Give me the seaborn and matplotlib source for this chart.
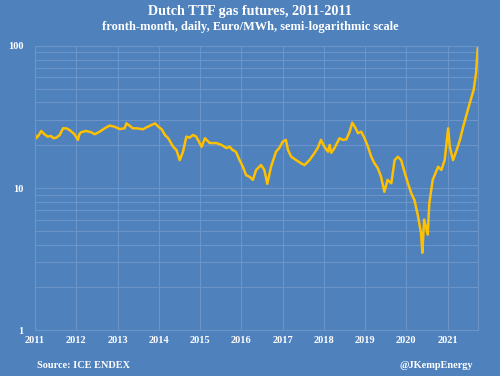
import matplotlib
matplotlib.use("Agg")
import matplotlib.pyplot as plt
from matplotlib.ticker import LogLocator, NullFormatter, FixedLocator, FixedFormatter
import seaborn as sns
import pandas as pd

# ---- data ----
dates = [
    "2011-01-03", "2011-01-12", "2011-02-03", "2011-02-25", "2011-03-25", "2011-04-23",
    "2011-05-23", "2011-06-14", "2011-07-08", "2011-08-08", "2011-09-06", "2011-10-05",
    "2011-11-02", "2011-12-16", "2012-01-16", "2012-01-30", "2012-02-14", "2012-03-28",
    "2012-05-11", "2012-06-13", "2012-07-27", "2012-09-09", "2012-10-23", "2012-12-05",
    "2013-01-19", "2013-03-04", "2013-03-20", "2013-04-16", "2013-05-15", "2013-06-17",
    "2013-08-15", "2013-09-13", "2013-10-31", "2013-11-29", "2013-12-28", "2014-01-26",
    "2014-02-24", "2014-03-25", "2014-05-08", "2014-06-06", "2014-07-05", "2014-08-03",
    "2014-09-02", "2014-10-01", "2014-10-30", "2014-11-28", "2015-01-15", "2015-02-13",
    "2015-03-28", "2015-05-26", "2015-07-09", "2015-08-22", "2015-09-20", "2015-10-16",
    "2015-11-14", "2015-12-17", "2016-01-15", "2016-02-13", "2016-03-14", "2016-04-12",
    "2016-05-11", "2016-06-24", "2016-07-23", "2016-08-18", "2016-09-20", "2016-11-03",
    "2016-12-02", "2017-01-02", "2017-01-30", "2017-02-17", "2017-03-18", "2017-05-01",
    "2017-06-14", "2017-07-13", "2017-08-26", "2017-10-09", "2017-11-07", "2017-12-06",
    "2018-01-05", "2018-02-07", "2018-02-21", "2018-03-07", "2018-04-05", "2018-05-19",
    "2018-06-17", "2018-07-19", "2018-08-17", "2018-09-09", "2018-10-01", "2018-10-30",
    "2018-11-28", "2018-12-27", "2019-01-26", "2019-02-24", "2019-03-25", "2019-04-23",
    "2019-05-22", "2019-06-20", "2019-07-19", "2019-08-21", "2019-09-19", "2019-10-18",
    "2019-11-16", "2019-12-15", "2020-01-15", "2020-02-13", "2020-03-13", "2020-04-11",
    "2020-05-10", "2020-05-21", "2020-06-06", "2020-07-08", "2020-07-22", "2020-08-21",
    "2020-10-08", "2020-11-06", "2020-12-05", "2021-01-05", "2021-01-19", "2021-02-17",
    "2021-03-21", "2021-04-19", "2021-05-18", "2021-06-20", "2021-07-19", "2021-08-18",
    "2021-09-09", "2021-09-20", "2021-09-24",
]
prices = [
    23.6, 22.4, 23.5, 25.2, 23.9, 23.0,
    23.2, 22.4, 22.6, 23.6, 26.3, 26.3,
    25.6, 23.9, 21.8, 24.0, 24.7, 25.2,
    24.7, 23.9, 24.9, 26.3, 27.5, 27.0,
    26.0, 26.3, 28.5, 27.5, 26.3, 26.3,
    25.9, 26.7, 27.8, 28.5, 27.0, 25.9,
    23.6, 22.4, 19.5, 18.5, 15.7, 18.0,
    23.0, 22.6, 23.6, 23.0, 19.5, 22.4,
    20.7, 20.7, 20.1, 19.1, 19.5, 18.5,
    18.0, 15.7, 14.1, 12.3, 12.0, 11.4,
    13.4, 14.5, 13.4, 10.7, 14.1, 18.0,
    19.1, 21.2, 21.8, 18.5, 16.6, 15.7,
    14.9, 14.5, 15.7, 17.6, 19.1, 21.8,
    19.5, 18.0, 20.1, 17.7, 19.1, 22.4,
    21.8, 22.0, 24.9, 28.8, 27.0, 24.3,
    24.9, 22.4, 19.5, 16.6, 14.9, 13.8,
    12.0, 9.4, 11.4, 10.8, 15.7, 16.6,
    15.7, 13.0, 10.8, 9.2, 8.2, 6.45,
    4.8, 3.5, 6.0, 4.7, 7.8, 11.4,
    14.1, 13.4, 15.7, 26.3, 19.5, 15.7,
    18.5, 21.8, 27.0, 33.6, 40.6, 48.9,
    64.2, 88.6, 97.0,
]
year_labels = [str(y) for y in range(2011, 2022)]
y_labels = ["1", "10", "100"]

title = "Dutch TTF gas futures, 2011-2011"
subtitle = "fronth-month, daily, Euro/MWh, semi-logarithmic scale"
source = "Source: ICE ENDEX"
handle = "@JKempEnergy"

df = pd.DataFrame({"date": pd.to_datetime(dates), "price": prices})

# ---- style ----
BG = "#4F81BD"
LINE = "#FFC000"
GRID = "#6B95C9"

sns.set_theme(style="white")
plt.rcParams["font.family"] = ["Liberation Serif", "DejaVu Serif"]
plt.rcParams["font.weight"] = "bold"

fig = plt.figure(figsize=(5.0, 3.76), dpi=100, facecolor=BG)
ax = fig.add_axes([0.07, 0.122, 0.886, 0.756])
ax.set_facecolor(BG)

sns.lineplot(data=df, x="date", y="price", ax=ax, color=LINE, linewidth=1.8)

ax.set_yscale("log")
ax.set_ylim(1, 100)
ax.set_xlim(pd.Timestamp("2011-01-01"), pd.Timestamp("2021-09-26"))

ax.yaxis.set_major_locator(FixedLocator([1, 10, 100]))
ax.yaxis.set_major_formatter(FixedFormatter(y_labels))
ax.yaxis.set_minor_locator(LogLocator(base=10, subs=range(2, 10)))
ax.yaxis.set_minor_formatter(NullFormatter())

year_ticks = [pd.Timestamp(f"{y}-01-01") for y in range(2011, 2022)]
ax.set_xticks(year_ticks)
ax.set_xticklabels(year_labels)

ax.set_axisbelow(True)
ax.grid(True, which="major", axis="both", color=GRID, linewidth=0.8)
ax.grid(True, which="minor", axis="y", color=GRID, linewidth=0.8)
ax.tick_params(axis="both", which="both", length=0, colors="white", labelsize=7.5)
ax.tick_params(axis="y", pad=8)
ax.tick_params(axis="x", pad=4)
for lab in ax.get_xticklabels() + ax.get_yticklabels():
    lab.set_fontweight("bold")
for s in ax.spines.values():
    s.set_color(GRID)
    s.set_linewidth(0.8)
ax.set_xlabel("")
ax.set_ylabel("")

fig.text(0.5, 0.970, title, ha="center", va="center", color="white",
         fontsize=10.2, fontweight="bold")
fig.text(0.5, 0.928, subtitle, ha="center", va="center", color="white",
         fontsize=8.9, fontweight="bold")
fig.text(0.074, 0.027, source, ha="left", va="center", color="white",
         fontsize=7.4, fontweight="bold")
fig.text(0.946, 0.027, handle, ha="right", va="center", color="white",
         fontsize=7.4, fontweight="bold")

fig.savefig("out.png", dpi=100, facecolor=BG)
